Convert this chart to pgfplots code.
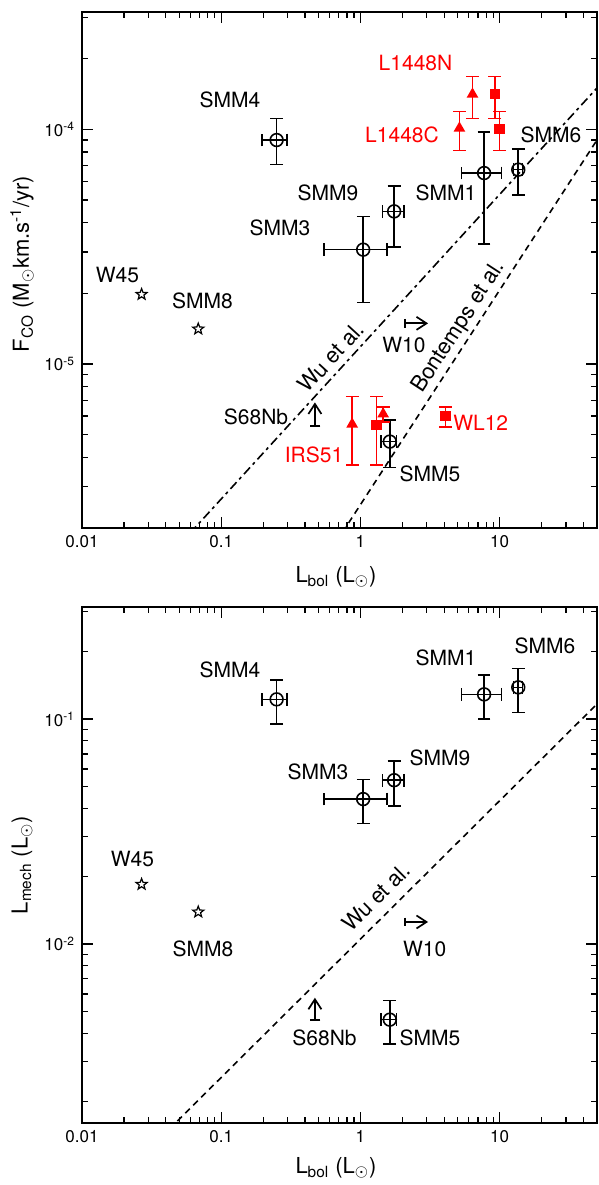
\documentclass[border=0pt]{standalone}
\usepackage{fontspec}
\setmainfont{TeX Gyre Heros}
\usepackage{pgfplots}
\pgfplotsset{compat=1.18}
\usetikzlibrary{arrows.meta,plotmarks}

\pgfdeclareplotmark{ostar}{%
  \pgfpathmoveto{\pgfpointpolar{90}{\pgfplotmarksize}}%
  \pgfpathlineto{\pgfpointpolar{126}{0.42\pgfplotmarksize}}%
  \pgfpathlineto{\pgfpointpolar{162}{\pgfplotmarksize}}%
  \pgfpathlineto{\pgfpointpolar{198}{0.42\pgfplotmarksize}}%
  \pgfpathlineto{\pgfpointpolar{234}{\pgfplotmarksize}}%
  \pgfpathlineto{\pgfpointpolar{270}{0.42\pgfplotmarksize}}%
  \pgfpathlineto{\pgfpointpolar{306}{\pgfplotmarksize}}%
  \pgfpathlineto{\pgfpointpolar{342}{0.42\pgfplotmarksize}}%
  \pgfpathlineto{\pgfpointpolar{18}{\pgfplotmarksize}}%
  \pgfpathlineto{\pgfpointpolar{54}{0.42\pgfplotmarksize}}%
  \pgfpathclose\pgfusepathqstroke}

\pgfplotsset{
  scale only axis, width=257.5pt, height=258pt,
  xmin=0.01, xmax=50,
  axis line style={line width=1.1pt},
  major tick length=5.5pt, minor tick length=3pt,
  tick align=inside,
  tick style={line width=0.6pt, black},
  xtick={0.01,0.1,1,10},
  xticklabels={0.01,0.1,1,10},
  minor xtick={0.02,0.03,0.04,0.05,0.06,0.07,0.08,0.09,0.2,0.3,0.4,0.5,0.6,0.7,0.8,0.9,2,3,4,5,6,7,8,9,20,30,40},
  tick label style={font=\fontsize{8.5}{9}\selectfont},
}
\pgfplotsset{
  myebar/.style={black, only marks, mark=o, mark size=3.2pt, line width=0.8pt,
    error bars/x dir=both, error bars/x explicit, error bars/y dir=both, error bars/y explicit,
    error bars/error bar style={line width=0.8pt},
    error bars/error mark options={rotate=90, mark size=3.2pt, line width=0.8pt}},
  myrbar/.style={red, only marks, line width=0.8pt,
    error bars/y dir=both, error bars/y explicit,
    error bars/error bar style={line width=0.8pt, red},
    error bars/error mark options={rotate=90, mark size=3.2pt, line width=0.8pt, red}},
  mystar/.style={black, only marks, mark=ostar, mark size=2.9pt, line width=0.6pt},
  myarr/.style={black, line width=0.85pt, -{Straight Barb[length=5pt,width=6.5pt]}},
}

\begin{document}
\begin{tikzpicture}
% ---------------- top panel ----------------
\begin{loglogaxis}[at={(41pt,-264pt)}, anchor=south west,
  xmin=0.01, xmax=50,
  ymin=2e-6, ymax=3.16e-4,
  ytick={1e-5,1e-4}, yticklabels={10\textsuperscript{-5},10\textsuperscript{-4}},
  minor ytick={2e-6,3e-6,4e-6,5e-6,6e-6,7e-6,8e-6,9e-6,2e-5,3e-5,4e-5,5e-5,6e-5,7e-5,8e-5,9e-5,2e-4,3e-4}]
% Wu et al.
\addplot[black, line width=0.8pt, dash pattern=on 4.5pt off 2pt on 1.5pt off 2pt] coordinates {(0.01,5.97e-7) (50,1.50e-4)};
% Bontemps et al.
\addplot[black, line width=0.8pt, dash pattern=on 3.2pt off 2.4pt] coordinates {(0.3,8.36e-7) (50,9.0e-5)};
% black data with errors
\addplot[myebar] coordinates {
  (0.25,9.0e-5) += (0.048,2.1e-5) -= (0.053,1.93e-5)
  (1.046,3.07e-5) += (0.504,1.18e-5) -= (0.498,1.24e-5)
  (1.746,4.47e-5) += (0.314,1.26e-5) -= (0.306,1.32e-5)
  (7.73,6.51e-5) += (2.57,3.23e-5) -= (2.41,3.27e-5)
  (13.6,6.73e-5) += (1.0,1.49e-5) -= (1.0,1.49e-5)
  (1.626,4.67e-6) += (0.194,1.11e-6) -= (0.226,1.05e-6)
};
% red triangles
\addplot[myrbar, mark=triangle*, mark size=2.6pt] coordinates {
  (6.38,1.41e-4) += (0,2.7e-5) -= (0,3.0e-5)
  (5.14,1.01e-4) += (0,1.8e-5) -= (0,1.97e-5)
  (0.872,5.54e-6) += (0,1.73e-6) -= (0,1.83e-6)
  (1.456,6.12e-6) += (0,0.45e-6) -= (0,0.45e-6)
};
% red squares
\addplot[myrbar, mark=square*, mark size=2.2pt] coordinates {
  (9.22,1.41e-4) += (0,2.7e-5) -= (0,3.0e-5)
  (10.0,1.0e-4) += (0,1.9e-5) -= (0,1.87e-5)
  (1.305,5.5e-6) += (0,1.77e-6) -= (0,1.79e-6)
  (4.08,6.02e-6) += (0,0.55e-6) -= (0,0.62e-6)
};
% stars
\addplot[mystar] coordinates {(0.0268,1.98e-5) (0.0684,1.41e-5)};
% limits
\addplot[myarr] coordinates {(0.471,5.45e-6) (0.471,6.86e-6)};
\addplot[black, only marks, mark=-, mark size=2.7pt, line width=0.85pt] coordinates {(0.471,5.45e-6)};
\addplot[myarr] coordinates {(2.08,1.49e-5) (3.06,1.49e-5)};
\addplot[black, only marks, mark=|, mark size=2.2pt, line width=0.85pt] coordinates {(2.08,1.49e-5)};
\end{loglogaxis}

% ---------------- bottom panel ----------------
\begin{loglogaxis}[at={(41pt,-561.5pt)}, anchor=south west,
  xmin=0.01, xmax=50,
  ymin=1.6e-3, ymax=0.315,
  ytick={1e-2,1e-1}, yticklabels={10\textsuperscript{-2},10\textsuperscript{-1}},
  minor ytick={2e-3,3e-3,4e-3,5e-3,6e-3,7e-3,8e-3,9e-3,2e-2,3e-2,4e-2,5e-2,6e-2,7e-2,8e-2,9e-2,0.2,0.3}]
\addplot[black, line width=0.8pt, dash pattern=on 3.2pt off 2.4pt] coordinates {(0.01,6.19e-4) (50,0.1167)};
\addplot[myebar] coordinates {
  (0.25,0.1224) += (0.048,0.0266) -= (0.053,0.0274)
  (7.73,0.1288) += (2.57,0.0282) -= (2.41,0.0288)
  (13.6,0.1384) += (1.0,0.0296) -= (1.0,0.0314)
  (1.046,0.0441) += (0.504,0.0098) -= (0.498,0.0098)
  (1.746,0.0535) += (0.314,0.0117) -= (0.306,0.0124)
  (1.626,4.61e-3) += (0.194,1.0e-3) -= (0.226,1.01e-3)
};
\addplot[mystar] coordinates {(0.0268,0.01843) (0.0684,0.01388)};
\addplot[myarr] coordinates {(0.471,4.61e-3) (0.471,5.77e-3)};
\addplot[black, only marks, mark=-, mark size=2.7pt, line width=0.85pt] coordinates {(0.471,4.61e-3)};
\addplot[myarr] coordinates {(2.10,0.01253) (3.06,0.01253)};
\addplot[black, only marks, mark=|, mark size=2.2pt, line width=0.85pt] coordinates {(2.10,0.01253)};
\end{loglogaxis}

\begin{scope}[x=0.5pt, y=-0.5pt, every node/.style={inner sep=0pt, font=\fontsize{10.5}{12}\selectfont}]
% top panel labels
\node at (230,100) {SMM4};
\node at (280,228) {SMM3};
\node at (328,193) {SMM9};
\node at (446,193) {SMM1};
\node at (551,135) {SMM6};
\node[red] at (415.5,63) {L1448N};
\node[red] at (402,135) {L1448C};
\node at (117.5,275) {W45};
\node at (202.5,301) {SMM8};
\node at (256,416.7) {S68Nb};
\node[red] at (314,455) {IRS51};
\node at (430,474) {SMM5};
\node[red] at (480.7,422.7) {WL12};
\node at (404,345) {W10};
\node[rotate=47.5, font=\fontsize{11}{12}\selectfont] at (331,357) {Wu et al.};
\node[rotate=57, font=\fontsize{11}{12}\selectfont] at (459,327) {Bontemps et al.};
\node[rotate=90, font=\fontsize{11}{13}\selectfont] at (22,264) {F\textsubscript{CO} (M$_\odot$km.s\textsuperscript{-1}/yr)};
\node[font=\fontsize{11}{13}\selectfont] at (336,577) {L\textsubscript{bol} (L$_\odot$)};
% bottom panel labels
\node at (230,670) {SMM4};
\node at (446,658) {SMM1};
\node at (545,646) {SMM6};
\node at (440,758) {SMM9};
\node at (318,772) {SMM3};
\node at (132.5,859) {W45};
\node at (203,949) {SMM8};
\node at (324.5,1038) {S68Nb};
\node at (430,1038) {SMM5};
\node at (424.7,949) {W10};
\node[rotate=44.8, font=\fontsize{11}{12}\selectfont] at (376,897) {Wu et al.};
\node[rotate=90, font=\fontsize{11}{13}\selectfont] at (22,865) {L\textsubscript{mech} (L$_\odot$)};
\node[font=\fontsize{11}{13}\selectfont] at (336,1168) {L\textsubscript{bol} (L$_\odot$)};
\end{scope}

\pgfresetboundingbox
\path[use as bounding box] (0,0) rectangle (299.5pt,-592.5pt);
\end{tikzpicture}
\end{document}
